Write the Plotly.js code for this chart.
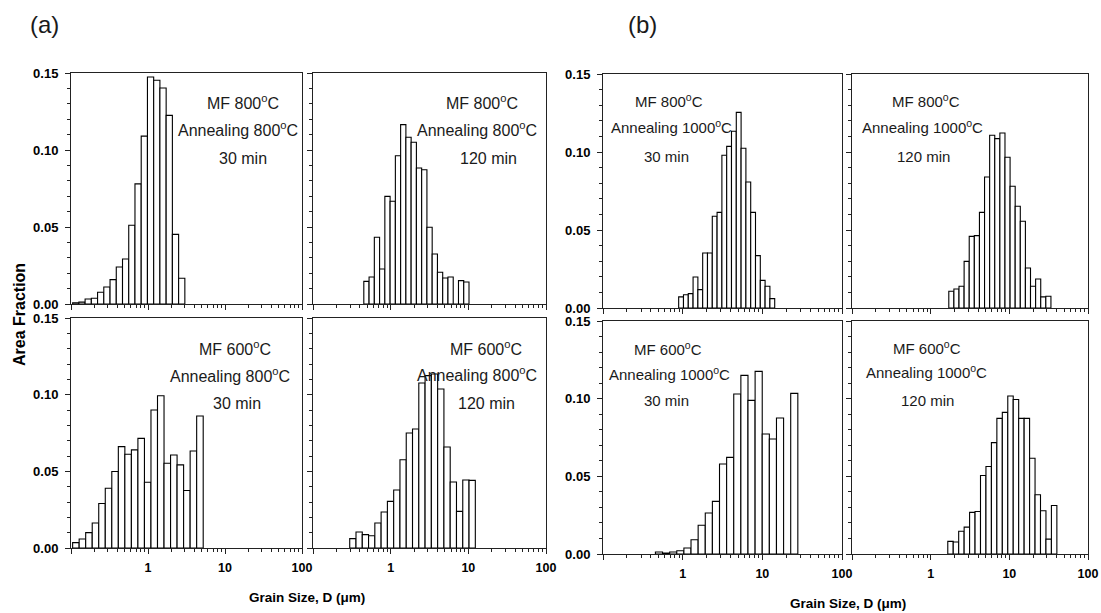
<!DOCTYPE html>
<html><head><meta charset="utf-8">
<script src="https://cdn.plot.ly/plotly-3.0.1.min.js"></script>
<style>html,body{margin:0;padding:0;background:#fff}</style>
</head><body><div id="chart" style="width:1101px;height:613px"></div>
<script>
// ---- data (area fraction per log-spaced grain-size bin) ----
const heightsA1 = [0.0008,0.0012,0.0032,0.0037,0.0076,0.011,0.0158,0.024,0.0292,0.0511,0.078,0.109,0.1474,0.1453,0.1403,0.1225,0.0452,0.0167];
const binRangeA1 = [0.105, 3.01];
const heightsA2 = [0.0147,0.0175,0.0433,0.0227,0.0699,0.0667,0.0963,0.1165,0.1083,0.105,0.0883,0.0872,0.0498,0.0325,0.0206,0.0169,0.0175,0.0,0.0152,0.0143];
const binRangeA2 = [0.451, 10.2];
const heightsA3 = [0.0035,0.0059,0.01,0.0163,0.029,0.039,0.0499,0.0661,0.0611,0.064,0.0715,0.0429,0.09,0.0993,0.0553,0.0607,0.0542,0.0375,0.0633,0.0861];
const binRangeA3 = [0.105, 5.21];
const heightsA4 = [0.0061,0.0104,0.0087,0.008,0.0163,0.0235,0.0304,0.0378,0.0576,0.075,0.0776,0.1076,0.1124,0.1135,0.1037,0.0659,0.043,0.0239,0.0443,0.0441];
const binRangeA4 = [0.297, 12.3];
const heightsB1 = [0.0071,0.0085,0.0092,0.0199,0.0118,0.0353,0.0353,0.0588,0.0613,0.0979,0.1036,0.1133,0.1254,0.1024,0.0808,0.0613,0.0336,0.0177,0.0139,0.006];
const binRangeB1 = [0.891, 14.3];
const heightsB2 = [0.0107,0.0122,0.0139,0.0299,0.0459,0.0464,0.0613,0.084,0.1107,0.1086,0.1122,0.0966,0.078,0.0652,0.0556,0.0256,0.0139,0.0186,0.0071,0.0075];
const binRangeB2 = [1.70, 33.8];
const heightsB3 = [0.0013,0.0006,0.0013,0.0021,0.0039,0.0092,0.0185,0.0264,0.0339,0.0579,0.0622,0.103,0.115,0.0989,0.1176,0.0773,0.074,0.0876,0,0.1034];
const binRangeB3 = [0.455, 27.9];
const heightsB4 = [0.0081,0.0077,0.0146,0.0173,0.0268,0.0274,0.0505,0.0563,0.0717,0.0873,0.0912,0.1017,0.0995,0.0873,0.0873,0.0616,0.0381,0.0278,0.0096,0.0312];
const binRangeB4 = [1.65, 40.2];

const labelsMF = ['MF 800<sup>o</sup>C','MF 800<sup>o</sup>C','MF 600<sup>o</sup>C','MF 600<sup>o</sup>C','MF 800<sup>o</sup>C','MF 800<sup>o</sup>C','MF 600<sup>o</sup>C','MF 600<sup>o</sup>C'];
const labelsAnneal = ['Annealing 800<sup>o</sup>C','Annealing 800<sup>o</sup>C','Annealing 800<sup>o</sup>C','Annealing 800<sup>o</sup>C','Annealing 1000<sup>o</sup>C','Annealing 1000<sup>o</sup>C','Annealing 1000<sup>o</sup>C','Annealing 1000<sup>o</sup>C'];
const labelsTime = ['30 min','120 min','30 min','120 min','30 min','120 min','30 min','120 min'];
const xTickVals = [0.1, 1, 10, 100];
const xTickText = ['', '1', '10', '100'];
const yTickVals = [0, 0.05, 0.10, 0.15];

// ---- layout geometry (pixels) ----
const W = 1101, H = 613;
const panels = [
  {h: heightsA1, r: binRangeA1, rect: [71, 302, 73, 304], left: true,  bottom: false, txt: [[243,102],[238,129],[243,158]], fs: 16},
  {h: heightsA2, r: binRangeA2, rect: [313, 546, 73, 304], left: false, bottom: false, txt: [[482,102],[477,129],[488,158]], fs: 16},
  {h: heightsA3, r: binRangeA3, rect: [71, 302, 318, 548], left: true,  bottom: true, txt: [[235,348],[230,375],[237,403]], fs: 16},
  {h: heightsA4, r: binRangeA4, rect: [313, 546, 318, 548], left: false, bottom: true, txt: [[486,348],[477,374],[486,403]], fs: 16},
  {h: heightsB1, r: binRangeB1, rect: [603, 842, 74, 308], left: true,  bottom: false, txt: [[669,101],[671,127],[666,157]], fs: 15},
  {h: heightsB2, r: binRangeB2, rect: [852, 1088, 74, 308], left: false, bottom: false, txt: [[926,101],[922,127],[923,157]], fs: 15},
  {h: heightsB3, r: binRangeB3, rect: [603, 842, 321, 554], left: true,  bottom: true, txt: [[668,348],[669,373],[666,400]], fs: 15},
  {h: heightsB4, r: binRangeB4, rect: [852, 1088, 321, 554], left: false, bottom: true, txt: [[927,347],[926,371],[927,400]], fs: 15}
];

const fx = p => p / W;
const fy = p => 1 - p / H;
const yTickFont = {family: 'Arial, "Liberation Sans", sans-serif', size: 13, color: '#000', weight: 'bold'};
const xTickFont = {family: 'Arial, "Liberation Sans", sans-serif', size: 12.5, color: '#000', weight: 'bold'};
const normFont = s => ({family: 'Arial, "Liberation Sans", sans-serif', size: s, color: '#1a1a1a'});

const minorX = [];
for (let d = -1; d < 2; d++) for (let k = 2; k <= 9; k++) minorX.push(k * Math.pow(10, d));

const traces = [];
const layout = {
  width: W, height: H, margin: {l: 0, r: 0, t: 0, b: 0},
  paper_bgcolor: '#fff', plot_bgcolor: '#fff', showlegend: false,
  annotations: []
};

panels.forEach((p, i) => {
  const n = p.h.length;
  const l0 = Math.log10(p.r[0]), l1 = Math.log10(p.r[1]);
  const step = (l1 - l0) / n;
  const xs = [], off = [], wid = [];
  for (let k = 0; k < n; k++) {
    const lo = Math.pow(10, l0 + k * step), hi = Math.pow(10, l0 + (k + 1) * step);
    const c = Math.sqrt(lo * hi);
    xs.push(c); off.push(lo - c); wid.push(hi - lo);
  }
  const sfx = i === 0 ? '' : String(i + 1);
  traces.push({
    type: 'bar', x: xs, y: p.h, offset: off, width: wid,
    xaxis: 'x' + sfx, yaxis: 'y' + sfx,
    marker: {color: '#fff', line: {color: '#000', width: 1.1}},
    hoverinfo: 'skip'
  });
  const [x0, x1, y0, y1] = p.rect;
  layout['xaxis' + sfx] = {
    type: 'log', range: [-1, 2], domain: [fx(x0), fx(x1)], anchor: 'y' + sfx,
    showgrid: false, zeroline: false, showline: true, linecolor: '#222', linewidth: 1, mirror: true,
    ticks: 'outside', ticklen: 5, tickwidth: 1, tickcolor: '#222',
    tickmode: 'array', tickvals: xTickVals, ticktext: xTickText,
    showticklabels: p.bottom, tickfont: xTickFont, ticklabelstandoff: 3,
    minor: {tickmode: 'array', tickvals: minorX, ticks: 'outside', ticklen: 3, tickwidth: 1, tickcolor: '#222', showgrid: false}
  };
  layout['yaxis' + sfx] = {
    range: [0, 0.15], domain: [fy(y1), fy(y0)], anchor: 'x' + sfx,
    showgrid: false, zeroline: false, showline: true, linecolor: '#222', linewidth: 1, mirror: true,
    ticks: 'outside', ticklen: 5, tickwidth: 1, tickcolor: '#222',
    tickmode: 'array', tickvals: yTickVals, tickformat: '.2f',
    showticklabels: p.left, tickfont: yTickFont, ticklabelstandoff: 4,
    minor: {dtick: 0.01, tick0: 0, ticks: 'outside', ticklen: 3, tickwidth: 1, tickcolor: '#222', showgrid: false}
  };
  const texts = [labelsMF[i], labelsAnneal[i], labelsTime[i]];
  texts.forEach((t, j) => {
    layout.annotations.push({
      text: t, xref: 'paper', yref: 'paper', x: fx(p.txt[j][0]), y: fy(p.txt[j][1]),
      xanchor: 'center', yanchor: 'middle', showarrow: false, font: normFont(p.fs)
    });
  });
});

const titleFont = s => ({family: 'Arial, "Liberation Sans", sans-serif', size: s, color: '#000', weight: 'bold'});
layout.annotations.push(
  {text: 'Area Fraction', textangle: -90, xref: 'paper', yref: 'paper', x: fx(19), y: fy(315), xanchor: 'center', yanchor: 'middle', showarrow: false, font: titleFont(16)},
  {text: 'Grain Size, D (\u03bcm)', xref: 'paper', yref: 'paper', x: fx(307), y: fy(597), xanchor: 'center', yanchor: 'middle', showarrow: false, font: titleFont(13.5)},
  {text: 'Grain Size, D (\u03bcm)', xref: 'paper', yref: 'paper', x: fx(848), y: fy(603), xanchor: 'center', yanchor: 'middle', showarrow: false, font: titleFont(13.5)},
  {text: '(a)', xref: 'paper', yref: 'paper', x: fx(44), y: fy(25), xanchor: 'center', yanchor: 'middle', showarrow: false, font: normFont(24)},
  {text: '(b)', xref: 'paper', yref: 'paper', x: fx(642), y: fy(25), xanchor: 'center', yanchor: 'middle', showarrow: false, font: normFont(24)}
);

Plotly.newPlot('chart', traces, layout, {staticPlot: true, displayModeBar: false});
</script></body></html>
